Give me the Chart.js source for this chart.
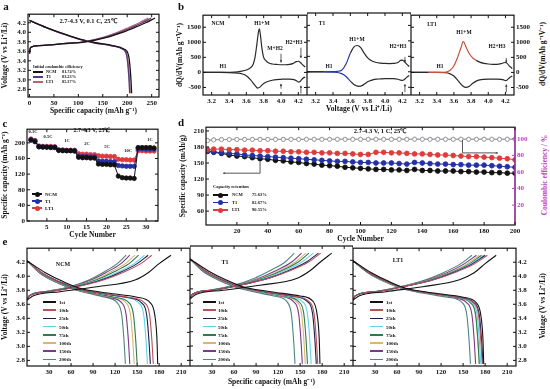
<!DOCTYPE html>
<html>
<head>
<meta charset="utf-8">
<script src="https://cdn.jsdelivr.net/npm/chart.js@4.4.1/dist/chart.umd.min.js"></script>
<style>
  body { margin: 0; width: 550px; height: 389px; background: #fff; position: relative; overflow: hidden; }
  canvas { position: absolute; }
  .t { position: absolute; white-space: nowrap; font-family: 'Liberation Serif', serif; font-weight: bold; color: #111; line-height: 1; }
</style>
</head>
<body>
<script>
// ---------- a: first charge / discharge ----------
const a_chg_v = [3.55, 3.68, 3.72, 3.76, 3.80, 3.90, 4.00, 4.10, 4.20, 4.30];
const a_chg_ncm = [0, 2, 20, 70, 115, 160, 190, 215, 238, 257];
const a_chg_t1 = [0, 2, 20, 70, 113, 156, 185, 209, 231, 249];
const a_chg_lt1 = [0, 2, 20, 68, 110, 152, 180, 203, 225, 243];
const a_dis_v = [4.25, 4.10, 3.95, 3.85, 3.78, 3.72, 3.65, 3.50, 3.10, 2.72];
const a_dis_ncm = [0, 35, 75, 105, 135, 170, 193, 203, 207, 209];
const a_dis_t1 = [0, 34, 73, 103, 132, 166, 190, 199, 203, 205];
const a_dis_lt1 = [0, 34, 74, 104, 133, 167, 191, 200, 204, 206];
const a_ticks_x = [0, 50, 100, 150, 200, 250];
const a_ticks_y = [2.8, 3.0, 3.2, 3.4, 3.6, 3.8, 4.0, 4.2];
const a_names = ['NCM', 'T1', 'LT1'];
const a_ice = ['81.74%', '83.23%', '85.37%'];

// ---------- b: dQ/dV ----------
const b_ncm_up_v = [3.10,3.20,3.30,3.40,3.50,3.55,3.60,3.65,3.68,3.70,3.72,3.74,3.75,3.76,3.78,3.80,3.83,3.86,3.90,3.95,4.00,4.05,4.10,4.14,4.17,4.20,4.22,4.25,4.28];
const b_ncm_up = [0,0,0,5,20,40,80,160,280,500,900,1350,1450,1300,800,500,380,310,280,265,255,255,265,300,350,370,340,250,180];
const b_ncm_dn_v = [3.10,3.30,3.40,3.50,3.55,3.60,3.65,3.70,3.73,3.76,3.80,3.85,3.90,3.95,4.00,4.05,4.10,4.15,4.18,4.20,4.22,4.25,4.28];
const b_ncm_dn = [0,0,-5,-25,-50,-110,-250,-430,-520,-480,-370,-300,-260,-240,-230,-220,-220,-240,-280,-320,-300,-200,-150];
const b_t1_up_v = [3.10,3.30,3.40,3.45,3.50,3.55,3.60,3.64,3.68,3.72,3.76,3.80,3.85,3.90,3.95,4.00,4.05,4.10,4.15,4.18,4.20,4.22,4.25,4.28];
const b_t1_up = [0,0,5,15,50,250,600,800,850,780,600,450,350,300,280,270,265,270,300,370,380,340,250,170];
const b_t1_dn_v = [3.10,3.30,3.40,3.50,3.55,3.60,3.65,3.70,3.74,3.78,3.82,3.86,3.90,3.95,4.00,4.05,4.10,4.15,4.18,4.20,4.22,4.25,4.28];
const b_t1_dn = [0,0,-10,-60,-150,-300,-430,-470,-440,-360,-300,-260,-240,-230,-220,-220,-220,-240,-270,-280,-260,-180,-120];
const b_lt1_up_v = [3.10,3.30,3.45,3.52,3.56,3.60,3.64,3.68,3.71,3.74,3.78,3.82,3.86,3.90,3.95,4.00,4.05,4.10,4.15,4.18,4.20,4.22,4.25,4.28];
const b_lt1_up = [0,0,0,20,80,220,480,800,1030,850,620,480,400,340,300,280,270,270,290,320,330,300,200,130];
const b_lt1_dn_v = [3.10,3.40,3.50,3.55,3.60,3.65,3.70,3.74,3.78,3.82,3.86,3.90,3.95,4.00,4.05,4.10,4.15,4.18,4.20,4.22,4.25,4.28];
const b_lt1_dn = [0,0,-10,-40,-120,-280,-440,-500,-460,-360,-290,-250,-230,-220,-220,-220,-230,-250,-270,-250,-170,-120];
const b_ticks_x = [3.2, 3.4, 3.6, 3.8, 4.0, 4.2];
const b_ticks_y = [-500, 0, 500, 1000, 1500];

// ---------- c: rate capability ----------
const c_cycles = [1,2,3,4,5,6,7,8,9,10,11,12,13,14,15,16,17,18,19,20,21,22,23,24,25,26,27,28,29,30,31,32];
const c_ncm = [207,203,190,189,189,188,188,181,180,180,180,179,163,162,162,161,161,146,145,145,144,144,115,111,110,110,109,188,188,188,188,187];
const c_t1 = [208,205,190,190,189,189,189,181,181,180,180,180,166,165,165,164,164,154,153,153,152,152,142,141,140,140,140,185,185,184,184,184];
const c_lt1 = [210,206,192,191,191,191,190,182,182,181,181,181,172,171,171,170,170,167,166,166,165,165,158,157,157,156,156,180,180,179,179,179];
const c_rates = ['0.1C', '0.5C', '1C', '2C', '5C', '10C', '1C'];
const c_ticks_x = [5, 10, 15, 20, 25, 30];
const c_ticks_y = [0, 40, 80, 120, 160, 200];

// ---------- d: cycling at 1 C ----------
const d_cycles = [1,5,10,15,20,25,30,35,40,45,50,55,60,65,70,75,80,85,90,95,100,105,110,115,120,125,130,135,140,145,150,155,160,165,170,175,180,185,190,195,200];
const d_ncm = [172,170,168,165,163,162,160,158,157,155,154,152,151,149,148,146,145,144,142,141,140,139,138,138,137,137,136,138,136,136,135,135,135,134,134,133,133,132,132,131,131];
const d_t1 = [172,171,169,168,167,165,164,163,162,161,160,159,158,157,156,155,154,153,153,152,151,151,150,150,150,149,148,151,150,149,148,148,147,147,146,146,146,145,144,143,142];
const d_lt1 = [175,176,176,175,175,174,174,173,173,172,172,171,171,170,170,169,169,168,168,167,166,166,170,170,169,169,168,167,167,166,165,165,164,163,162,162,161,160,159,158,156];
const d_ce_ncm = [97.8,98.6,99.0,99.1,99.2,99.2,99.3,99.2,99.3,99.2,99.3,99.3,99.2,99.3,99.4,99.3,99.3,99.4,99.3,99.3,99.4,99.3,99.4,99.3,99.4,99.4,99.3,99.4,99.4,99.3,99.4,99.4,99.3,99.4,99.4,99.3,99.4,99.4,99.3,99.4,99.4];
const d_ce_t1 = [98.0,98.8,99.1,99.2,99.3,99.2,99.4,99.3,99.3,99.4,99.3,99.4,99.4,99.3,99.4,99.4,99.5,99.4,99.4,99.5,99.4,99.4,99.5,99.4,99.5,99.5,99.4,99.6,99.5,99.4,99.5,99.5,99.4,99.5,99.5,99.4,99.5,99.5,99.4,99.5,99.5];
const d_ce_lt1 = [98.2,98.9,99.2,99.3,99.3,99.4,99.4,99.5,99.4,99.5,99.5,99.4,99.5,99.5,99.6,99.5,99.5,99.6,99.5,99.6,99.6,99.5,99.6,99.6,99.5,99.6,99.6,99.7,99.6,99.6,99.7,99.6,99.6,99.7,99.6,99.6,99.7,99.6,99.6,99.7,99.7];
const d_retention = ['75.63%', '82.67%', '90.55%'];
const d_ticks_x = [20, 40, 60, 80, 100, 120, 140, 160, 180, 200];
const d_ticks_y = [60, 90, 120, 150, 180, 210];
const d_ticks_y2 = [20, 40, 60, 80, 100];

// ---------- e: charge/discharge curves at selected cycles ----------
const e_labels = ['1st', '10th', '25th', '50th', '75th', '100th', '150th', '200th'];
const e_chg_v = [3.66, 3.72, 3.78, 3.85, 3.95, 4.05, 4.18, 4.30];
const e_dis_v = [4.22, 4.05, 3.92, 3.83, 3.76, 3.70, 3.62, 3.45, 3.10, 2.75];
const e_ncm_chg = [
  [0, 8, 45, 95, 148, 165, 180, 196],
  [0, 3, 30, 68, 105, 130, 155, 170],
  [0, 3, 29, 66, 102, 126, 150, 165],
  [0, 3, 28, 65, 99, 122, 146, 160],
  [0, 3, 27, 63, 95, 116, 139, 152],
  [0, 3, 26, 62, 92, 112, 134, 147],
  [0, 3, 25, 60, 88, 107, 128, 140],
  [0, 3, 24, 58, 85, 103, 123, 135]
];
const e_ncm_dis = [
  [0, 25, 50, 72, 110, 150, 168, 174, 177, 178],
  [0, 20, 45, 68, 100, 138, 160, 167, 170, 172],
  [0, 20, 44, 67, 98, 135, 156, 163, 166, 168],
  [0, 19, 43, 66, 96, 131, 152, 159, 162, 164],
  [0, 18, 41, 63, 90, 119, 139, 145, 148, 150],
  [0, 18, 40, 62, 88, 116, 135, 141, 144, 146],
  [0, 17, 39, 60, 85, 111, 129, 135, 138, 140],
  [0, 17, 38, 59, 82, 106, 123, 129, 132, 134]
];
const e_t1_chg = [
  [0, 8, 45, 95, 146, 163, 178, 193],
  [0, 3, 30, 68, 108, 135, 162, 178],
  [0, 3, 30, 67, 107, 133, 159, 175],
  [0, 3, 29, 66, 103, 128, 153, 168],
  [0, 3, 28, 65, 100, 124, 148, 162],
  [0, 3, 28, 64, 98, 121, 144, 158],
  [0, 3, 27, 62, 94, 116, 139, 152],
  [0, 3, 25, 59, 88, 108, 130, 142]
];
const e_t1_dis = [
  [0, 25, 50, 72, 110, 150, 168, 173, 176, 177],
  [0, 21, 46, 69, 102, 140, 162, 169, 172, 174],
  [0, 21, 45, 68, 101, 138, 160, 167, 170, 172],
  [0, 20, 44, 66, 97, 132, 153, 160, 163, 165],
  [0, 19, 43, 65, 95, 128, 148, 155, 158, 160],
  [0, 19, 42, 64, 93, 126, 145, 152, 155, 157],
  [0, 18, 41, 63, 91, 122, 141, 148, 151, 153],
  [0, 17, 39, 60, 86, 114, 132, 138, 141, 143]
];
const e_lt1_chg = [
  [0, 8, 45, 95, 145, 165, 180, 195],
  [0, 3, 31, 68, 110, 138, 166, 183],
  [0, 3, 31, 68, 109, 136, 163, 180],
  [0, 3, 30, 67, 108, 135, 161, 178],
  [0, 3, 30, 67, 106, 133, 159, 175],
  [0, 3, 29, 66, 105, 131, 156, 172],
  [0, 3, 29, 65, 102, 128, 152, 168],
  [0, 3, 28, 64, 99, 123, 147, 162]
];
const e_lt1_dis = [
  [0, 25, 50, 72, 110, 150, 168, 174, 177, 178],
  [0, 22, 47, 70, 104, 143, 164, 171, 174, 176],
  [0, 22, 47, 70, 105, 144, 165, 172, 175, 177],
  [0, 22, 46, 69, 103, 141, 162, 169, 172, 174],
  [0, 21, 46, 68, 102, 139, 160, 167, 170, 172],
  [0, 21, 45, 68, 101, 139, 160, 167, 170, 172],
  [0, 21, 45, 67, 99, 135, 155, 162, 165, 167],
  [0, 20, 43, 65, 95, 129, 149, 155, 158, 160]
];
const e_ticks_x = [30, 60, 90, 120, 150, 180, 210];
const e_ticks_y = [2.8, 3.0, 3.2, 3.4, 3.6, 3.8, 4.0, 4.2];

// ---------- styling ----------
const COL3 = ['#151515', '#5a3c7c', '#c0606e'];
const MARK3 = ['#111111', '#2330a6', '#dd3c3c'];
const E_COL = ['#111111', '#b8505c', '#1d1d4e', '#62d2e8', '#2e7a55', '#d8b870', '#7a3a86', '#4f8585'];
const PINK = '#c23cc2';

Chart.defaults.font.family = "'Liberation Serif', serif";
Chart.defaults.font.size = 7;
Chart.defaults.font.weight = 'bold';
Chart.defaults.color = '#111';

const framePlugin = {
  id: 'frame',
  afterDatasetsDraw(chart, args, opts) {
    const { ctx, chartArea: a } = chart;
    ctx.save();
    ctx.lineWidth = 1.2;
    ctx.strokeStyle = '#111';
    ctx.strokeRect(a.left, a.top, a.width, a.height);
    if (opts.rightColor) {
      ctx.strokeStyle = opts.rightColor;
      ctx.beginPath(); ctx.moveTo(a.right, a.top); ctx.lineTo(a.right, a.bottom); ctx.stroke();
    }
    ctx.lineWidth = 1;
    const sides = opts.sides || {};
    Object.values(chart.scales).forEach(s => {
      const side = sides[s.id] || 'both';
      ctx.strokeStyle = (side === 'right' && opts.rightColor) ? opts.rightColor : '#111';
      s.ticks.forEach(t => {
        const p = s.getPixelForValue(t.value);
        ctx.beginPath();
        if (s.isHorizontal()) {
          ctx.moveTo(p, a.bottom); ctx.lineTo(p, a.bottom - 3);
          ctx.moveTo(p, a.top); ctx.lineTo(p, a.top + 3);
        } else {
          if (side !== 'right') { ctx.moveTo(a.left, p); ctx.lineTo(a.left + 3, p); }
          if (side !== 'left') { ctx.moveTo(a.right, p); ctx.lineTo(a.right - 3, p); }
        }
        ctx.stroke();
      });
    });
    ctx.restore();
  }
};

function ax(pos, min, max, ticks, size, o = {}) {
  return {
    type: 'linear', position: pos, min: min, max: max,
    grid: { display: false, drawTicks: false }, border: { display: false },
    ticks: { display: o.show !== false, padding: 2, color: o.color || '#111', autoSkip: false, maxRotation: 0,
             callback: o.fmt || (v => String(v)) },
    title: { display: !!o.title, text: o.title || '', color: o.color || '#111',
             padding: { top: 1, bottom: 1 }, font: { size: 7.5, weight: 'bold' } },
    afterBuildTicks: s => { s.ticks = ticks.map(v => ({ value: v })); },
    afterFit: s => { if (s.isHorizontal()) s.height = size; else s.width = size; }
  };
}

function line(xs, ys, color, w, extra) {
  return Object.assign({
    data: xs.map((x, i) => ({ x: x, y: ys[i] })),
    showLine: true, pointRadius: 0, borderColor: color, borderWidth: w || 1.2,
    cubicInterpolationMode: 'monotone'
  }, extra || {});
}

function marks(xs, ys, color, r, extra) {
  return Object.assign({
    data: xs.map((x, i) => ({ x: x, y: ys[i] })),
    showLine: true, borderColor: color, borderWidth: 1, pointRadius: r,
    pointBackgroundColor: color, pointBorderColor: color, pointBorderWidth: 0.8
  }, extra || {});
}

function makeChart(p, pad, datasets, scales, frameOpts, extraPlugins) {
  const c = document.createElement('canvas');
  const w = p.w + pad.l + pad.r, h = p.h + pad.t + pad.b;
  c.width = w; c.height = h;
  c.style.left = (p.x - pad.l) + 'px';
  c.style.top = (p.y - pad.t) + 'px';
  c.style.width = w + 'px';
  c.style.height = h + 'px';
  document.body.appendChild(c);
  const hasL = Object.values(scales).some(s => s.position === 'left');
  const hasR = Object.values(scales).some(s => s.position === 'right');
  return new Chart(c, {
    type: 'scatter',
    data: { datasets: datasets },
    options: {
      responsive: false, devicePixelRatio: 1, animation: false,
      layout: { autoPadding: false, padding: { top: pad.t, bottom: 0, left: hasL ? 0 : pad.l, right: hasR ? 0 : pad.r } },
      plugins: { legend: { display: false }, tooltip: { enabled: false }, frame: frameOpts || {} },
      scales: scales
    },
    plugins: [framePlugin].concat(extraPlugins || [])
  });
}

function T(s, x, y, size, o = {}) {
  const d = document.createElement('div');
  d.className = 't';
  d.textContent = s;
  d.style.left = x + 'px';
  d.style.top = y + 'px';
  d.style.fontSize = size + 'px';
  let tr = o.left ? 'translate(0,-50%)' : 'translate(-50%,-50%)';
  if (o.rot) tr += ' rotate(-90deg)';
  d.style.transform = tr;
  if (o.color) d.style.color = o.color;
  document.body.appendChild(d);
}

function legLine(x, y, w, color, marker) {
  const l = document.createElement('div');
  l.style.cssText = `position:absolute;left:${x}px;top:${y - 0.75}px;width:${w}px;height:1.5px;background:${color}`;
  document.body.appendChild(l);
  if (marker) {
    const m = document.createElement('div');
    m.style.cssText = `position:absolute;left:${x + w / 2 - 2.5}px;top:${y - 2.5}px;width:5px;height:5px;border-radius:50%;background:${color}`;
    document.body.appendChild(m);
  }
}

function arrow(ctx, x0, y0, x1, y1) {
  ctx.beginPath(); ctx.moveTo(x0, y0); ctx.lineTo(x1, y1); ctx.stroke();
  const ang = Math.atan2(y1 - y0, x1 - x0), s = 2.5;
  ctx.beginPath();
  ctx.moveTo(x1, y1);
  ctx.lineTo(x1 - s * Math.cos(ang - 0.5), y1 - s * Math.sin(ang - 0.5));
  ctx.lineTo(x1 - s * Math.cos(ang + 0.5), y1 - s * Math.sin(ang + 0.5));
  ctx.closePath(); ctx.fill();
}

// arrows on the dQ/dV plots, given in data units: [voltage, from, to]
function dqArrows(list) {
  return {
    id: 'dqArrows',
    afterDatasetsDraw(chart) {
      const { ctx, scales } = chart;
      ctx.save();
      ctx.strokeStyle = '#333'; ctx.fillStyle = '#333'; ctx.lineWidth = 0.8;
      list.forEach(a => {
        const x = scales.x.getPixelForValue(a[0]);
        arrow(ctx, x, scales.y.getPixelForValue(a[1]), x, scales.y.getPixelForValue(a[2]));
      });
      ctx.restore();
    }
  };
}

// ================= a =================
makeChart({ x: 28, y: 12, w: 131, h: 85 }, { l: 28, t: 4, r: 5, b: 20 }, [
  line(a_chg_ncm, a_chg_v, COL3[0], 1.3), line(a_chg_t1, a_chg_v, COL3[1], 1.3), line(a_chg_lt1, a_chg_v, COL3[2], 1.3),
  line(a_dis_ncm, a_dis_v, COL3[0], 1.3), line(a_dis_t1, a_dis_v, COL3[1], 1.3), line(a_dis_lt1, a_dis_v, COL3[2], 1.3)
], {
  x: ax('bottom', -3, 265, a_ticks_x, 20, { title: 'Specific capacity (mAh g⁻¹)' }),
  y: ax('left', 2.64, 4.38, a_ticks_y, 28, { title: 'Voltage (V vs Li⁺/Li)', fmt: v => v.toFixed(1) })
});

// ================= b =================
const bDark = '#2a2a2a';
function seg(lo, hi, hl) {
  return { segment: { borderColor: c => (c.p0.parsed.x >= lo && c.p0.parsed.x < hi) ? hl : bDark } };
}
const bFmt = v => v.toFixed(1);
makeChart({ x: 203, y: 13, w: 104, h: 82 }, { l: 28, t: 4, r: 0, b: 20 }, [
  line(b_ncm_up_v, b_ncm_up, bDark, 1.2), line(b_ncm_dn_v, b_ncm_dn, bDark, 1.2)
], {
  x: ax('bottom', 3.1, 4.3, b_ticks_x, 20, { fmt: bFmt }),
  y: ax('left', -750, 1900, b_ticks_y, 28, { title: 'dQ/dV(mAh g⁻¹V⁻¹)' })
}, {}, [dqArrows([[4.0, 620, 330], [4.23, 820, 480], [4.0, -540, -380], [4.23, -700, -440]])]);

makeChart({ x: 307, y: 13, w: 104, h: 82 }, { l: 0, t: 4, r: 0, b: 20 }, [
  line(b_t1_up_v, b_t1_up, bDark, 1.2, seg(3.3, 3.56, '#2838a0')),
  line(b_t1_dn_v, b_t1_dn, bDark, 1.2, seg(3.3, 3.56, '#2838a0'))
], {
  x: ax('bottom', 3.1, 4.3, b_ticks_x, 20, { fmt: bFmt, title: 'Voltage (V vs Li⁺/Li)' }),
  y: ax('left', -750, 1900, b_ticks_y, 0, { show: false })
}, {}, [dqArrows([[4.23, 480, 300], [4.23, -660, -400]])]);

makeChart({ x: 411, y: 13, w: 103, h: 82 }, { l: 0, t: 4, r: 22, b: 20 }, [
  line(b_lt1_up_v, b_lt1_up, bDark, 1.2, seg(3.3, 3.86, '#c8503e')),
  line(b_lt1_dn_v, b_lt1_dn, bDark, 1.2)
], {
  x: ax('bottom', 3.1, 4.3, b_ticks_x, 20, { fmt: bFmt }),
  y: ax('right', -750, 1900, b_ticks_y, 22)
}, {}, [dqArrows([[4.21, 480, 320], [4.21, -660, -400]])]);

// ================= c =================
makeChart({ x: 27, y: 127, w: 131, h: 94 }, { l: 27, t: 4, r: 5, b: 20 }, [
  marks(c_cycles, c_ncm, MARK3[0], 2.2), marks(c_cycles, c_t1, MARK3[1], 2.2), marks(c_cycles, c_lt1, MARK3[2], 2.2)
], {
  x: ax('bottom', 0, 33, c_ticks_x, 20, { title: 'Cycle Number' }),
  y: ax('left', 0, 235, c_ticks_y, 27, { title: 'Specific capacity (mAh g⁻¹)' })
});

// ================= d =================
const dArrows = {
  id: 'dArrows',
  afterDatasetsDraw(chart) {
    const { ctx, scales } = chart;
    const x = scales.x, y = scales.y, y2 = scales.y2;
    ctx.save();
    ctx.strokeStyle = '#555'; ctx.fillStyle = '#555'; ctx.lineWidth = 1;
    ctx.beginPath();
    ctx.moveTo(x.getPixelForValue(35), y.getPixelForValue(152));
    ctx.lineTo(x.getPixelForValue(35), y.getPixelForValue(131));
    ctx.stroke();
    arrow(ctx, x.getPixelForValue(35), y.getPixelForValue(131), x.getPixelForValue(11), y.getPixelForValue(131));
    ctx.beginPath();
    ctx.moveTo(x.getPixelForValue(166), y2.getPixelForValue(98.5));
    ctx.lineTo(x.getPixelForValue(166), y2.getPixelForValue(83));
    ctx.stroke();
    arrow(ctx, x.getPixelForValue(166), y2.getPixelForValue(83), x.getPixelForValue(189), y2.getPixelForValue(83));
    ctx.restore();
  }
};
const ceStyle = c => ({ yAxisID: 'y2', pointBackgroundColor: '#fff', pointBorderColor: c, borderColor: c, borderWidth: 0.6, pointBorderWidth: 0.7 });
makeChart({ x: 206, y: 125, w: 309, h: 100 }, { l: 28, t: 4, r: 22, b: 20 }, [
  marks(d_cycles, d_lt1, MARK3[2], 2.4, { yAxisID: 'y' }),
  marks(d_cycles, d_t1, MARK3[1], 2.4, { yAxisID: 'y' }),
  marks(d_cycles, d_ncm, MARK3[0], 2.4, { yAxisID: 'y' }),
  marks(d_cycles, d_ce_ncm, '#8a8a8a', 2, ceStyle('#8a8a8a')),
  marks(d_cycles, d_ce_t1, '#9a9ab4', 2, ceStyle('#9a9ab4')),
  marks(d_cycles, d_ce_lt1, '#bfa0a0', 2, ceStyle('#bfa0a0'))
], {
  x: ax('bottom', 0, 200, d_ticks_x, 20, { title: 'Cycle Number' }),
  y: ax('left', 34, 217, d_ticks_y, 28, { title: 'Specific capacity (mAh/g)' }),
  y2: ax('right', -4, 114, d_ticks_y2, 22, { color: PINK })
}, { sides: { y: 'left', y2: 'right' }, rightColor: PINK }, [dArrows]);

// ================= e =================
function eSets(chg, dis) {
  const out = [];
  for (let i = 0; i < chg.length; i++) {
    out.push(line(chg[i], e_chg_v, E_COL[i], 1.1));
    out.push(line(dis[i], e_dis_v, E_COL[i], 1.1));
  }
  return out;
}
makeChart({ x: 27, y: 246, w: 163, h: 120 }, { l: 27, t: 4, r: 0, b: 22 }, eSets(e_ncm_chg, e_ncm_dis), {
  x: ax('bottom', 0, 222, e_ticks_x, 22),
  y: ax('left', 2.72, 4.40, e_ticks_y, 27, { title: 'Voltage (V vs Li⁺/Li)', fmt: v => v.toFixed(1) })
});
makeChart({ x: 190, y: 246, w: 163, h: 120 }, { l: 0, t: 4, r: 0, b: 22 }, eSets(e_t1_chg, e_t1_dis), {
  x: ax('bottom', 0, 222, e_ticks_x, 22, { title: 'Specific capacity (mAh g⁻¹)' }),
  y: ax('left', 2.72, 4.40, e_ticks_y, 0, { show: false })
});
makeChart({ x: 353, y: 246, w: 163, h: 120 }, { l: 0, t: 4, r: 22, b: 22 }, eSets(e_lt1_chg, e_lt1_dis), {
  x: ax('bottom', 0, 222, e_ticks_x, 22),
  y: ax('right', 2.72, 4.40, e_ticks_y, 22, { fmt: v => v.toFixed(1) })
});

// ================= text overlays =================
// panel letters
T('a', 6, 6, 11); T('b', 181, 6, 11); T('c', 5, 123, 11); T('d', 181, 122, 11); T('e', 5, 241, 11);

// a
T('2.7-4.3 V, 0.1 C, 25℃', 88, 21, 6.5);
T('Initial coulombic efficiency', 33, 67, 4.3, { left: true });
a_names.forEach((n, i) => {
  const y = 72 + i * 5;
  legLine(33, y, 10, COL3[i]);
  T(n, 46, y, 4.3, { left: true });
  T(a_ice[i], 62, y, 4.3, { left: true });
});

// b
T('NCM', 218, 24, 5.5); T('H1+M', 262, 24, 5.5); T('M+H2', 275, 49, 5.5); T('H2+H3', 294, 43, 5.5); T('H1', 223, 67, 5.5);
T('T1', 322, 24, 5.5); T('H1', 329, 67, 5.5); T('H1+M', 357, 40, 5.5); T('H2+H3', 398, 47, 5.5);
T('LT1', 432, 25, 5.5); T('H1+M', 464, 33, 5.5); T('H1', 440, 67, 5.5); T('H2+H3', 497, 47, 5.5);
T('dQ/dV(mAh g⁻¹V⁻¹)', 543, 54, 7.5, { rot: true });

// c
T('2.7-4.3 V, 25℃', 92, 130, 6);
const c_ratePos = [[33, 132], [48, 137], [67, 141], [87, 144], [107, 147], [128, 151], [150, 140]];
c_rates.forEach((r, i) => T(r, c_ratePos[i][0], c_ratePos[i][1], 4.5));
a_names.forEach((n, i) => {
  const y = 194 + i * 7;
  legLine(32, y, 10, MARK3[i], true);
  T(n, 45, y, 5, { left: true });
});

// d
T('2.7-4.3 V, 1 C, 25℃', 380, 131, 6.5);
T('Capacity retention', 213, 187, 4.5, { left: true });
a_names.forEach((n, i) => {
  const y = 195 + i * 7.5;
  legLine(213, y, 15, MARK3[i], true);
  T(n, 232, y, 4.5, { left: true });
  T(d_retention[i], 252, y, 4.5, { left: true });
});
T('Coulombic efficiency / %', 545, 175, 7.5, { rot: true, color: PINK });

// e
T('NCM', 63, 264, 6); T('T1', 225, 262, 6); T('LT1', 398, 260, 6);
[[43, 59], [203, 218], [370, 386]].forEach(p => {
  e_labels.forEach((s, i) => {
    const y = 302 + i * 8.2;
    legLine(p[0], y, 13, E_COL[i]);
    T(s, p[1], y, 5, { left: true });
  });
});
T('Voltage (V vs Li⁺/Li)', 543, 306, 7.5, { rot: true });
</script>
</body>
</html>
